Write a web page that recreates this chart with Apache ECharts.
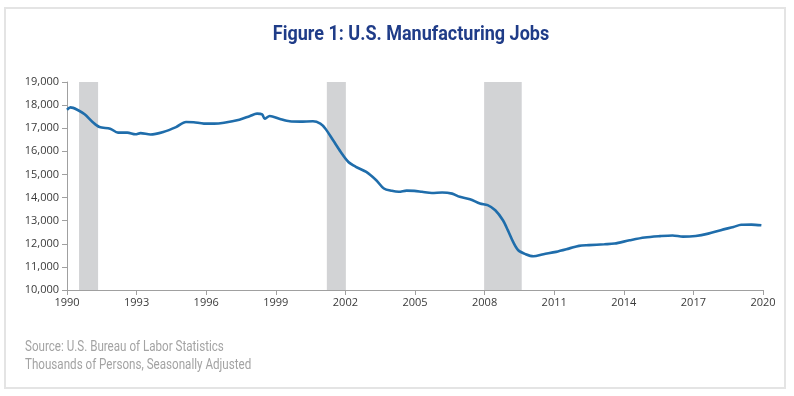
<!DOCTYPE html>
<html>
<head>
<meta charset="utf-8">
<title>Figure 1: U.S. Manufacturing Jobs</title>
<script src="https://cdn.jsdelivr.net/npm/echarts@6/dist/echarts.min.js"></script>
<style>
  html, body { margin: 0; padding: 0; background: #fff; }
  #chart { width: 794px; height: 396px; }
</style>
</head>
<body>
<div id="chart"></div>
<script>
// jobs, thousands of persons
var years = [1990.0, 1990.15, 1990.44, 1990.76, 1991.1, 1991.4, 1991.86, 1992.2, 1992.6, 1992.95,
  1993.17, 1993.6, 1994.15, 1994.7, 1995.13, 1995.46, 1995.9, 1996.34, 1996.77, 1997.43,
  1997.87, 1998.19, 1998.41, 1998.52, 1998.74, 1999.18, 1999.6, 2000.05, 2000.6, 2000.92,
  2001.14, 2001.47, 2001.8, 2002.13, 2002.45, 2002.9, 2003.33, 2003.66, 2004.0, 2004.3,
  2004.64, 2004.97, 2005.3, 2005.73, 2006.17, 2006.6, 2006.93, 2007.37, 2007.8, 2008.13,
  2008.46, 2008.79, 2009.0, 2009.23, 2009.45, 2009.77, 2010.1, 2010.54, 2011.08, 2011.63,
  2012.07, 2012.5, 2013.16, 2013.6, 2014.25, 2014.9, 2015.56, 2016.1, 2016.55, 2017.1,
  2017.64, 2018.18, 2018.73, 2019.06, 2019.5, 2019.93];
var jobs = [17800, 17900, 17800, 17600, 17270, 17050, 16980, 16810, 16810, 16740,
  16790, 16730, 16840, 17050, 17270, 17260, 17200, 17200, 17240, 17370,
  17520, 17630, 17600, 17410, 17530, 17400, 17300, 17285, 17300, 17200,
  16980, 16480, 15975, 15540, 15330, 15110, 14750, 14390, 14290, 14250,
  14300, 14290, 14250, 14200, 14220, 14170, 14030, 13930, 13740, 13670,
  13450, 13020, 12590, 12080, 11720, 11550, 11460, 11550, 11650, 11790,
  11910, 11940, 11980, 12010, 12150, 12270, 12330, 12360, 12310, 12340,
  12440, 12590, 12730, 12820, 12830, 12800];

// shaded recessions [start, end]
var recessionStart = [1990.52, 2001.2, 2007.98];
var recessionEnd = [1991.34, 2002.02, 2009.6];

var lineData = years.map(function (y, i) { return [y, jobs[i]]; });
var bands = recessionStart.map(function (s, i) {
  return [{ xAxis: s }, { xAxis: recessionEnd[i] }];
});

var narrowFont = "'Roboto', 'Liberation Sans', sans-serif";

var chart = echarts.init(document.getElementById('chart'));
chart.setOption({
  animation: false,
  backgroundColor: '#fff',
  graphic: [
    {
      type: 'rect',
      shape: { x: 5, y: 8, width: 780, height: 380 },
      style: { fill: 'none', stroke: '#e4e4e4', lineWidth: 2 },
      silent: true
    },
    {
      // condensed title
      type: 'text', x: 411, y: 35, scaleX: 0.9,
      style: {
        text: 'Figure 1: U.S. Manufacturing Jobs',
        align: 'center', verticalAlign: 'middle',
        fontFamily: narrowFont, fontSize: 20, fontWeight: 'bold', fill: '#1f3c88'
      }
    },
    {
      type: 'text', x: 25, y: 347, scaleX: 0.83,
      style: {
        text: 'Source: U.S. Bureau of Labor Statistics',
        align: 'left', verticalAlign: 'middle',
        fontFamily: narrowFont, fontSize: 14, fill: '#a3a3a3'
      }
    },
    {
      type: 'text', x: 25, y: 365, scaleX: 0.83,
      style: {
        text: 'Thousands of Persons, Seasonally Adjusted',
        align: 'left', verticalAlign: 'middle',
        fontFamily: narrowFont, fontSize: 14, fill: '#a3a3a3'
      }
    }
  ],
  grid: { left: 67, right: 31, top: 82, bottom: 106 },
  xAxis: {
    type: 'value',
    min: 1990, max: 2020, interval: 3,
    axisLine: { lineStyle: { color: '#a0a0a0' } },
    axisTick: { length: 5, lineStyle: { color: '#a0a0a0' } },
    axisLabel: {
      margin: 7, color: '#3a3a3a', fontSize: 11,
      fontFamily: "'Open Sans', sans-serif",
      formatter: function (v) { return String(Math.round(v)); }
    },
    splitLine: { show: false }
  },
  yAxis: {
    type: 'value',
    min: 10000, max: 19000, interval: 1000,
    axisLine: { show: true, lineStyle: { color: '#a0a0a0' } },
    axisTick: { show: true, length: 5, lineStyle: { color: '#a0a0a0' } },
    axisLabel: {
      margin: 8, color: '#3a3a3a', fontSize: 11,
      fontFamily: "'Open Sans', sans-serif",
      formatter: function (v) { return v.toLocaleString('en-US'); }
    },
    splitLine: { show: false }
  },
  series: [{
    type: 'line',
    data: lineData,
    showSymbol: false,
    smooth: 0.3,
    lineStyle: { color: '#1f6dab', width: 2.6 },
    markArea: {
      silent: true,
      itemStyle: { color: '#d2d3d5' },
      data: bands
    },
    z: 3
  }]
});
</script>
</body>
</html>
